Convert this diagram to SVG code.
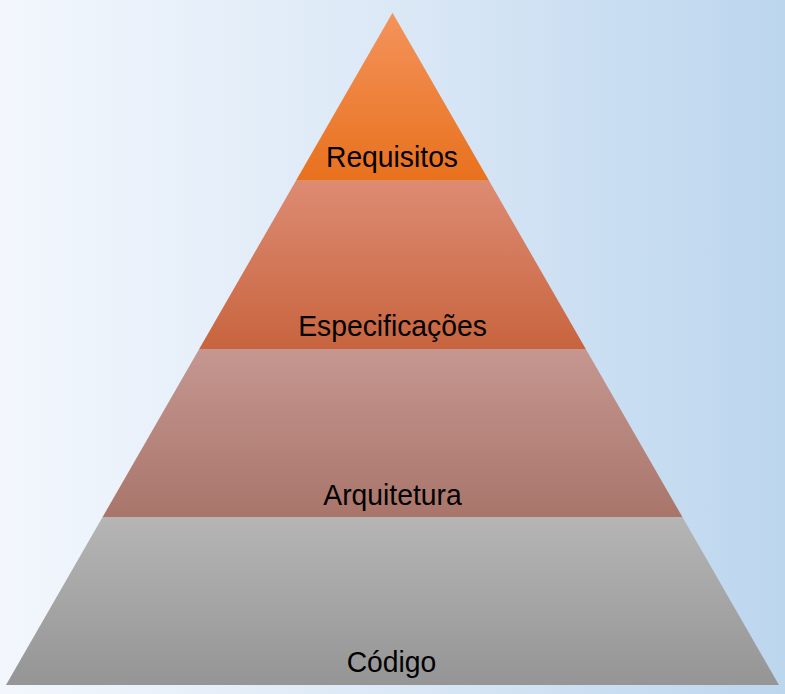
<svg xmlns="http://www.w3.org/2000/svg" width="785" height="694" viewBox="0 0 785 694">
  <defs>
    <linearGradient id="bg" x1="0" y1="0" x2="1" y2="0">
      <stop offset="0" stop-color="#f3f7fd"/>
      <stop offset="0.5" stop-color="#dbe8f6"/>
      <stop offset="1" stop-color="#bcd6ee"/>
    </linearGradient>
    <linearGradient id="g1" x1="0" y1="0" x2="0" y2="1">
      <stop offset="0" stop-color="#f4935c"/>
      <stop offset="1" stop-color="#e8711d"/>
    </linearGradient>
    <linearGradient id="g2" x1="0" y1="0" x2="0" y2="1">
      <stop offset="0" stop-color="#dd8b73"/>
      <stop offset="1" stop-color="#c8643e"/>
    </linearGradient>
    <linearGradient id="g3" x1="0" y1="0" x2="0" y2="1">
      <stop offset="0" stop-color="#c59790"/>
      <stop offset="1" stop-color="#a9756b"/>
    </linearGradient>
    <linearGradient id="g4" x1="0" y1="0" x2="0" y2="1">
      <stop offset="0" stop-color="#b5b5b5"/>
      <stop offset="1" stop-color="#959595"/>
    </linearGradient>
  </defs>
  <style>
    .lbl { font-family: "Liberation Sans", Arial, sans-serif; font-size: 28.3px; fill: #000; text-anchor: middle; }
  </style>
  <rect x="0" y="0" width="785" height="694" fill="url(#bg)"/>
  <g id="connectors"></g>
  <g id="requisitos">
    <polygon points="392.5,12.7 489.1,180.8 295.9,180.8" fill="url(#g1)"/>
    <text class="lbl" x="392" y="167" transform="translate(0,-8.35) scale(1,1.05)">Requisitos</text>
  </g>
  <g id="especificacoes">
    <polygon points="295.9,180.8 489.1,180.8 585.8,349 199.2,349" fill="url(#g2)"/>
    <text class="lbl" x="392.5" y="336" transform="translate(0,-16.8) scale(1,1.05)">Especificações</text>
  </g>
  <g id="arquitetura">
    <polygon points="199.2,349 585.8,349 682.4,517 102.6,517" fill="url(#g3)"/>
    <text class="lbl" x="392.5" y="505" transform="translate(0,-25.25) scale(1,1.05)">Arquitetura</text>
  </g>
  <g id="codigo">
    <polygon points="102.6,517 682.4,517 779,685 6,685" fill="url(#g4)"/>
    <text class="lbl" x="391.5" y="672" transform="translate(0,-33.6) scale(1,1.05)">Código</text>
  </g>
</svg>
